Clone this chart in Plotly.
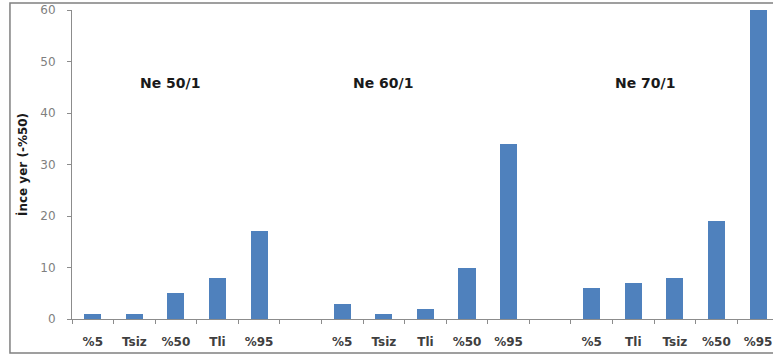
import plotly.graph_objects as go

# Thin-place counts per yarn count, one group per Ne value
groups = ["Ne 50/1", "Ne 60/1", "Ne 70/1"]
labels_50 = ["%5", "Tsiz", "%50", "Tli", "%95"]
values_50 = [1, 1, 5, 8, 17]
labels_60 = ["%5", "Tsiz", "Tli", "%50", "%95"]
values_60 = [3, 1, 2, 10, 34]
labels_70 = ["%5", "Tli", "Tsiz", "%50", "%95"]
values_70 = [6, 7, 8, 19, 60]
y_ticks = [0, 10, 20, 30, 40, 50, 60]

# Lay groups out side by side on a numeric axis with one empty slot between them
xs, ys, texts = [], [], []
pos = 0
for labels, values in [(labels_50, values_50), (labels_60, values_60), (labels_70, values_70)]:
    for lab, val in zip(labels, values):
        xs.append(pos)
        ys.append(val)
        texts.append(lab)
        pos += 1
    pos += 1  # gap slot
last_slot = pos - 2

fig = go.Figure(go.Bar(
    x=xs, y=ys, width=0.41,
    marker=dict(color="#4F81BD", line=dict(width=0)),
    showlegend=False,
))

label_font = dict(family="DejaVu Sans", size=12, color="#404040")
fig.update_layout(
    width=773, height=360,
    margin=dict(l=72, r=0, t=10, b=41),
    paper_bgcolor="white", plot_bgcolor="white",
    bargap=0,
    xaxis=dict(
        range=[-0.5, last_slot + 0.36],
        tickvals=xs, ticktext=[f"<b>{t}</b>" for t in texts],
        tickfont=label_font, ticks="", ticklen=0, ticklabelstandoff=12,
        showline=True, linecolor="#8c8c8c", linewidth=1,
        showgrid=False, zeroline=False,
        minor=dict(ticks="outside", ticklen=4, tickcolor="#8c8c8c",
                   tick0=-0.5, dtick=1, showgrid=False),
        fixedrange=True,
    ),
    yaxis=dict(
        range=[0, 60], tickvals=y_ticks,
        tickfont=dict(family="DejaVu Sans", size=12, color="#7f7f7f"),
        ticks="outside", ticklen=4, tickcolor="#8c8c8c", ticklabelstandoff=9,
        showline=True, linecolor="#8c8c8c", linewidth=1,
        showgrid=False, zeroline=False,
        title=dict(text="<b>İnce yer (-%50)</b>", standoff=10,
                   font=dict(family="DejaVu Sans", size=12, color="#1a1a1a")),
    ),
)

# Group captions, placed in the empty space above the bars
caption_x = [1.85, 6.98, 13.28]
for name, cx in zip(groups, caption_x):
    fig.add_annotation(
        x=cx, y=45.8, xref="x", yref="y",
        text=f"<b>{name}</b>", showarrow=False,
        font=dict(family="DejaVu Sans", size=14, color="#1a1a1a"),
    )

# Outer frame
fig.add_shape(type="rect", xref="paper", yref="paper",
              x0=-0.0885, x1=1.01, y0=-0.11, y1=1.023,
              line=dict(color="#808080", width=1.5), fillcolor="rgba(0,0,0,0)")

fig.write_html("out.html")
